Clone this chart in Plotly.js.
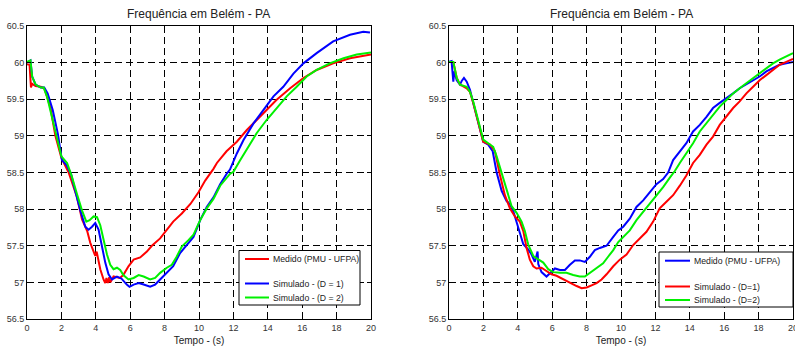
<!DOCTYPE html>
<html><head><meta charset="utf-8">
<script src="https://cdn.plot.ly/plotly-3.0.1.min.js"></script>
<style>html,body{margin:0;padding:0;background:#fff}#g{width:795px;height:347px}</style>
</head><body><div id="g"></div>
<script>
// Left panel: measured (red) and simulated D=1 (blue), D=2 (green)
const L_med_t = [0,0.15,0.23,0.3,0.5,0.8,1.0,1.35,1.65,2.0,2.42,2.9,3.2,3.5,3.68,3.9,3.97,4.05,4.26,4.45,4.55,4.62,4.7,4.78,4.85,5.03,5.4,5.6,5.9,6.2,6.58,6.97,7.26,7.74,8.13,8.5,9.0,9.5,9.97,10.36,10.84,11.04,11.6,12.2,12.78,13.36,13.94,14.5,15.3,16.07,16.84,17.8,18.78,20];
const L_med_f = [59.98,59.97,59.66,59.71,59.68,59.67,59.65,59.4,59.0,58.7,58.5,58.17,57.86,57.7,57.54,57.4,57.36,57.42,57.18,57.04,56.99,57.06,56.99,57.07,57.0,57.08,57.06,57.1,57.22,57.31,57.34,57.42,57.5,57.6,57.72,57.83,57.94,58.07,58.23,58.39,58.55,58.63,58.79,58.92,59.08,59.22,59.35,59.49,59.65,59.79,59.9,59.99,60.06,60.11];
const L_d1_t = [0,0.2,0.3,0.5,0.8,1.0,1.2,1.5,1.8,2.03,2.3,2.56,2.8,3.1,3.39,3.58,3.78,3.97,4.16,4.36,4.55,4.74,4.94,5.23,5.5,5.8,5.96,6.2,6.49,6.78,7.16,7.45,7.74,8.13,8.5,8.9,9.3,9.68,10.07,10.45,10.84,11.23,11.6,11.8,12.2,12.58,13.17,13.75,14.33,14.9,15.49,16.07,16.84,17.8,18.78,19.55,19.94];
const L_d1_f = [60.0,60.03,59.81,59.7,59.66,59.66,59.58,59.35,59.02,58.67,58.6,58.48,58.25,57.98,57.76,57.72,57.76,57.81,57.72,57.49,57.27,57.11,57.04,57.08,57.05,56.97,56.94,56.97,56.99,56.97,56.94,56.97,57.04,57.13,57.22,57.4,57.51,57.62,57.85,58.03,58.16,58.34,58.48,58.54,58.76,58.94,59.17,59.35,59.54,59.67,59.85,59.99,60.13,60.29,60.38,60.42,60.41];
const L_d2_t = [0,0.2,0.3,0.5,0.8,0.97,1.16,1.45,1.74,2.0,2.33,2.6,2.9,3.2,3.45,3.64,3.87,4.07,4.26,4.45,4.65,4.84,5.03,5.23,5.42,5.6,5.9,6.2,6.49,6.78,7.16,7.45,7.74,8.13,8.42,8.7,9.0,9.4,9.68,10.07,10.45,10.84,11.23,11.8,12.0,12.4,12.87,13.36,13.94,14.5,15.1,15.68,16.26,16.84,17.6,18.4,19.17,20];
const L_d2_f = [60.01,60.03,59.81,59.7,59.66,59.66,59.54,59.26,58.95,58.72,58.63,58.45,58.21,57.98,57.83,57.85,57.9,57.89,57.78,57.58,57.38,57.24,57.18,57.2,57.17,57.1,57.04,57.06,57.1,57.08,57.04,57.06,57.13,57.2,57.24,57.35,57.49,57.58,57.65,57.85,58.01,58.14,58.32,58.48,58.51,58.67,58.85,59.04,59.22,59.38,59.54,59.67,59.81,59.9,59.99,60.06,60.11,60.14];
// Right panel: measured (blue), simulated D=1 (red), D=2 (green)
const R_med_t = [0,0.15,0.25,0.31,0.45,0.64,0.74,0.87,1.03,1.22,1.41,1.7,1.99,2.28,2.54,2.77,3.06,3.35,3.54,3.74,4.03,4.32,4.6,4.8,4.99,5.15,5.19,5.38,5.67,5.87,6.16,6.45,6.74,7.03,7.32,7.6,7.9,8.19,8.48,8.77,9.16,9.55,9.84,10.13,10.51,10.9,11.29,11.67,12.06,12.45,12.74,13.03,13.42,13.8,14.19,14.58,14.97,15.35,15.74,16.13,16.52,16.9,17.29,17.68,18.06,18.45,18.84,19.22,19.61,20];
const R_med_f = [60.01,60.02,59.74,59.88,59.76,59.7,59.75,59.79,59.74,59.63,59.45,59.17,58.92,58.88,58.79,58.5,58.25,58.11,58.07,57.97,57.74,57.52,57.45,57.38,57.28,57.42,57.25,57.14,57.08,57.12,57.19,57.17,57.17,57.24,57.3,57.3,57.28,57.35,57.44,57.47,57.5,57.62,57.71,57.76,57.87,58.03,58.12,58.23,58.34,58.41,58.5,58.67,58.79,58.9,59.06,59.15,59.26,59.38,59.45,59.51,59.58,59.65,59.7,59.76,59.81,59.88,59.92,59.97,59.99,60.01];
const R_d1_t = [0,0.25,0.45,0.64,1.03,1.22,1.41,1.7,1.99,2.38,2.67,2.96,3.25,3.54,3.83,4.12,4.32,4.51,4.7,4.9,5.09,5.38,5.67,5.96,6.25,6.64,7.03,7.42,7.71,8.0,8.29,8.58,8.87,9.16,9.55,9.93,10.32,10.71,11.09,11.48,11.87,12.25,12.64,13.03,13.42,13.8,14.19,14.58,14.97,15.35,15.74,16.13,16.52,16.9,17.29,17.68,18.06,18.45,18.84,19.22,19.61,20];
const R_d1_f = [60.01,60.01,59.79,59.7,59.65,59.6,59.45,59.17,58.92,58.88,58.79,58.47,58.19,58.01,57.9,57.83,57.7,57.47,57.31,57.22,57.19,57.2,57.16,57.11,57.09,57.04,56.99,56.95,56.92,56.93,56.96,56.99,57.04,57.11,57.22,57.31,57.38,57.51,57.6,57.69,57.83,58.01,58.1,58.19,58.32,58.46,58.63,58.74,58.88,58.99,59.15,59.26,59.38,59.47,59.58,59.67,59.76,59.83,59.9,59.97,60.01,60.05];
const R_d2_t = [0,0.25,0.45,0.64,1.03,1.22,1.41,1.7,1.99,2.28,2.57,2.77,3.06,3.35,3.64,3.93,4.22,4.41,4.6,4.9,5.19,5.48,5.77,6.06,6.45,6.83,7.22,7.6,7.9,8.19,8.58,8.96,9.25,9.55,9.84,10.13,10.51,10.9,11.29,11.67,12.06,12.45,12.84,13.13,13.42,13.8,14.19,14.58,14.97,15.35,15.74,16.13,16.52,16.9,17.29,17.68,18.06,18.45,18.84,19.22,19.61,20];
const R_d2_f = [60.01,60.01,59.79,59.7,59.67,59.6,59.47,59.19,58.95,58.9,58.85,58.72,58.5,58.25,58.04,57.95,57.83,57.7,57.52,57.36,57.31,57.27,57.18,57.14,57.13,57.13,57.1,57.08,57.08,57.13,57.2,57.26,57.35,57.44,57.55,57.62,57.71,57.85,57.96,58.07,58.19,58.3,58.43,58.52,58.63,58.76,58.9,59.06,59.17,59.29,59.4,59.49,59.58,59.65,59.72,59.79,59.85,59.92,59.99,60.04,60.09,60.13];

const titleText = 'Frequência em Belém - PA';
const xTitle = 'Tempo - (s)';
const L_names = ['Medido (PMU - UFPA)', 'Simulado - (D = 1)', 'Simulado - (D = 2)'];
const R_names = ['Medido (PMU - UFPA)', 'Simulado - (D=1)', 'Simulado - (D=2)'];

const RED = '#ff0000', BLUE = '#0000ff', GREEN = '#00f000';
const L_colors = [RED, BLUE, GREEN];
const R_colors = [BLUE, RED, GREEN];

function tr(x, y, name, color, xa, ya) {
  return {x: x, y: y, name: name, type: 'scatter', mode: 'lines',
    line: {color: color, width: 2}, xaxis: xa, yaxis: ya, showlegend: false};
}
const data = [
  tr(L_med_t, L_med_f, L_names[0], L_colors[0], 'x', 'y'),
  tr(L_d1_t, L_d1_f, L_names[1], L_colors[1], 'x', 'y'),
  tr(L_d2_t, L_d2_f, L_names[2], L_colors[2], 'x', 'y'),
  tr(R_med_t, R_med_f, R_names[0], R_colors[0], 'x2', 'y2'),
  tr(R_d1_t, R_d1_f, R_names[1], R_colors[1], 'x2', 'y2'),
  tr(R_d2_t, R_d2_f, R_names[2], R_colors[2], 'x2', 'y2')
];
const FONT = 'Liberation Sans, Arial, sans-serif';
const W = 795, H = 347, MT = 26, MB = 28;
const px = v => v / W;
const py = v => (H - MB - v) / (H - MT - MB);

function xax(dom, anchor) {
  return {domain: dom, anchor: anchor, range: [0, 20], dtick: 2, tick0: 0,
    showline: true, mirror: 'ticks', linecolor: '#000', linewidth: 1,
    ticks: 'inside', ticklen: 4, tickcolor: '#000', ticklabeloverflow: 'allow',
    showgrid: true, gridcolor: '#000', gridwidth: 1, griddash: '7px,4px',
    zeroline: false, tickfont: {family: FONT, size: 9, color: '#333'},
    title: {text: xTitle, font: {family: FONT, size: 10, color: '#222'}, standoff: 5}};
}
function yax(anchor) {
  return {domain: [0, 1], anchor: anchor, range: [56.5, 60.5], dtick: 0.5,
    showline: true, mirror: 'ticks', linecolor: '#000', linewidth: 1,
    ticks: 'inside', ticklen: 4, tickcolor: '#000', ticklabeloverflow: 'allow',
    showgrid: true, gridcolor: '#000', gridwidth: 1, griddash: '7px,4px',
    zeroline: false, tickfont: {family: FONT, size: 9, color: '#333'}};
}

// Hand-built legends (MATLAB style with a blank row after the first entry)
const shapes = [], annotations = [];
function legendBox(x0, x1, y0, y1, lx0, lx1, tx, rowsY, names, colors) {
  shapes.push({type: 'rect', xref: 'paper', yref: 'paper', x0: px(x0), x1: px(x1), y0: py(y1), y1: py(y0),
    line: {color: '#000', width: 1}, fillcolor: '#fff', layer: 'above'});
  names.forEach((n, i) => {
    shapes.push({type: 'line', xref: 'paper', yref: 'paper', x0: px(lx0), x1: px(lx1), y0: py(rowsY[i]), y1: py(rowsY[i]),
      line: {color: colors[i], width: 2}, layer: 'above'});
    annotations.push({text: n, xref: 'paper', yref: 'paper', x: px(tx), y: py(rowsY[i]), xanchor: 'left', yanchor: 'middle',
      showarrow: false, font: {family: FONT, size: 8.7, color: '#222'}});
  });
}
legendBox(239, 360, 250.5, 305, 245, 269, 271, [259, 283.5, 297.5], L_names, L_colors);
legendBox(659, 793, 252, 307, 665, 690, 692, [260.7, 286.5, 300], R_names, R_colors);

annotations.push({text: titleText, xref: 'paper', yref: 'paper', x: px(198), y: 1, xanchor: 'center', yanchor: 'bottom', yshift: 3,
  showarrow: false, font: {family: FONT, size: 12, color: '#222'}});
annotations.push({text: titleText, xref: 'paper', yref: 'paper', x: px(621), y: 1, xanchor: 'center', yanchor: 'bottom', yshift: 3,
  showarrow: false, font: {family: FONT, size: 12, color: '#222'}});

const layout = {
  width: W, height: H,
  margin: {l: 0, r: 0, t: MT, b: MB},
  paper_bgcolor: '#fff', plot_bgcolor: '#fff',
  showlegend: false,
  xaxis: xax([px(27), px(371)], 'y'),
  yaxis: yax('x'),
  xaxis2: xax([px(449), px(793)], 'y2'),
  yaxis2: yax('x2'),
  shapes: shapes,
  annotations: annotations
};
Plotly.newPlot('g', data, layout, {displayModeBar: false, staticPlot: true});
</script>
</body></html>
